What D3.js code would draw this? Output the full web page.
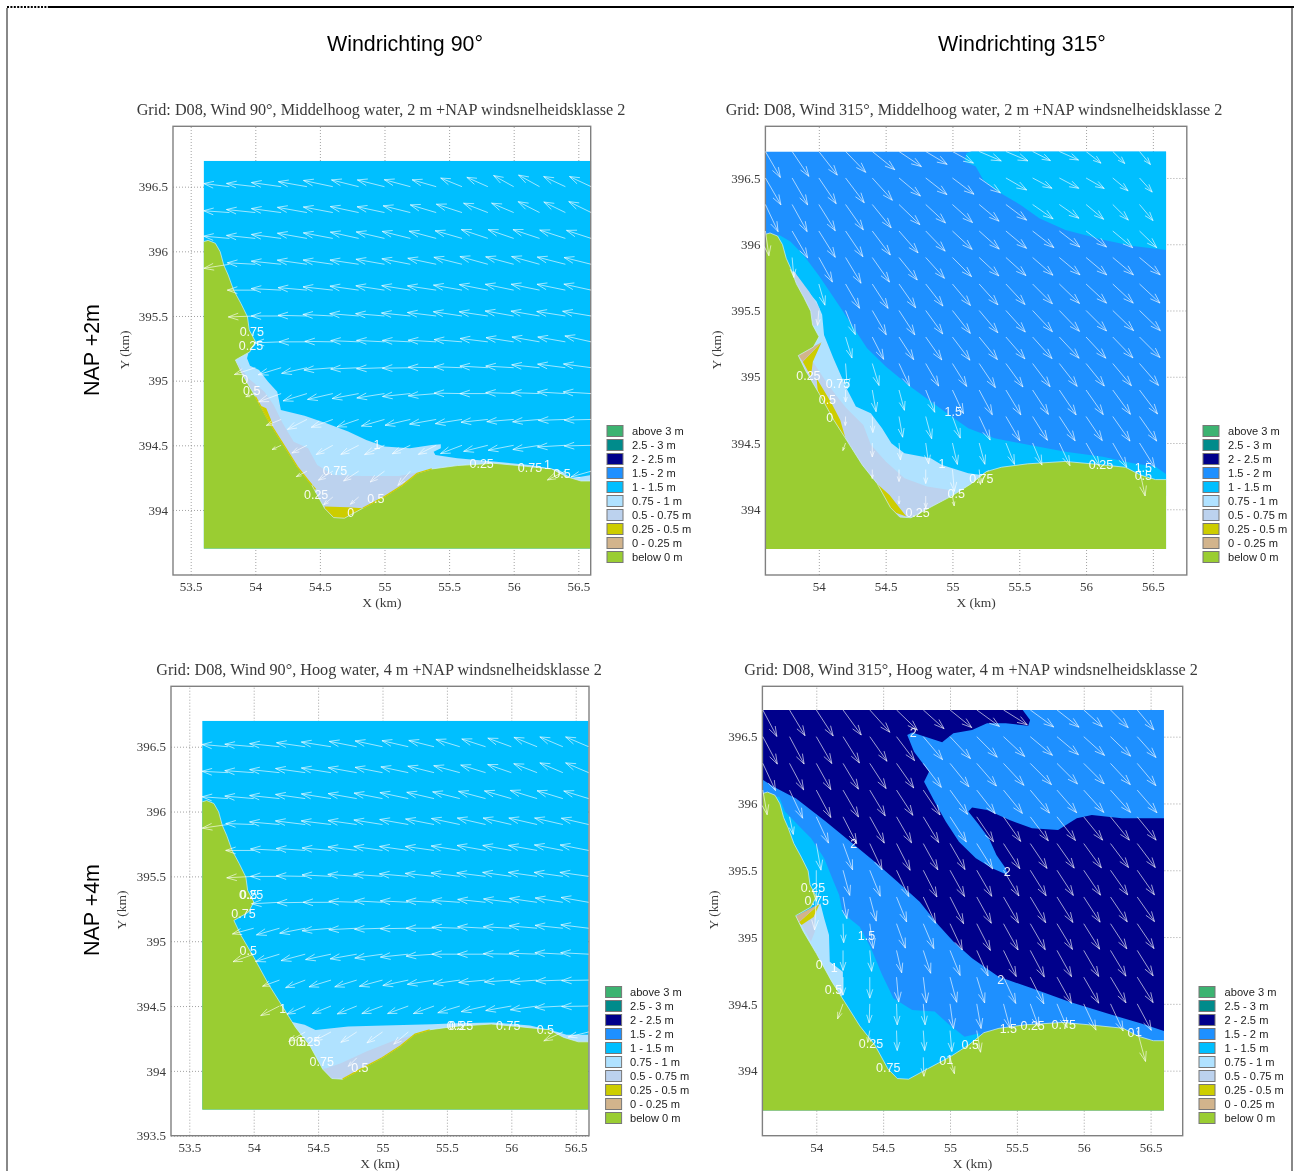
<!DOCTYPE html>
<html><head><meta charset="utf-8">
<script src="https://cdnjs.cloudflare.com/ajax/libs/d3/7.8.5/d3.min.js"></script>
<style>
html,body{margin:0;padding:0;background:#fff}
svg{display:block;filter:blur(0.35px)}
.serif{font-family:"Liberation Serif",serif;fill:#3a3a3a}
.sans{font-family:"Liberation Sans",Arial,sans-serif}
</style></head><body><div id="chart"></div>
<script>
/* ---------- legend ---------- */
const bandNames = ["above 3 m","2.5 - 3 m","2 - 2.5 m","1.5 - 2 m","1 - 1.5 m","0.75 - 1 m","0.5 - 0.75 m","0.25 - 0.5 m","0 - 0.25 m","below 0 m"];
const bandColors = ["#3CB371","#008B8B","#00008B","#1E90FF","#00BFFF","#B0E2FF","#BCD2EE","#CDCD00","#D2B48C","#9ACD32"];

/* ---------- coastline (km) ---------- */
const coast = [[53.6,393.7],[53.6,396.075],[53.635,396.085],[53.691,396.062],[53.728,395.997],[53.756,395.894],[53.79,395.817],[53.832,395.701],[53.888,395.598],[53.939,395.495],[53.953,395.392],[54.001,395.302],[53.959,395.224],[53.846,395.16],[53.902,395.044],[54.001,394.876],[54.114,394.67],[54.212,394.515],[54.325,394.335],[54.437,394.193],[54.536,394.013],[54.606,393.941],[54.69,393.936],[54.831,394.013],[55,394.103],[55.141,394.193],[55.253,394.284],[55.366,394.317],[55.563,394.343],[55.844,394.361],[56.041,394.343],[56.295,394.317],[56.407,394.258],[56.52,394.224],[56.6,394.224],[56.6,393.7]];

/* ---------- depth bands (km) ---------- */
const p1Band75 = [[53.953,395.237],[53.936,395.173],[53.959,395.116],[54.029,395.082],[54.099,394.992],[54.17,394.915],[54.198,394.773],[54.381,394.729],[54.55,394.67],[54.719,394.606],[54.859,394.541],[55,394.49],[55.197,394.477],[55.366,394.503],[55.436,394.508],[55.436,394.477],[55.38,394.451],[55.394,394.425],[55.563,394.399],[55.844,394.374],[56.126,394.348],[56.351,394.309],[56.45,394.245],[56.6,394.271],[56.6,394.1],[55.4,394.1],[54.7,393.9],[54.4,394],[53.8,395.16]];
const p1Band50 = [[53.846,395.16],[53.874,395.121],[53.945,395.018],[54.071,394.915],[54.142,394.812],[54.212,394.67],[54.297,394.528],[54.409,394.477],[54.479,394.348],[54.606,394.271],[54.831,394.263],[55.113,394.263],[55.282,394.296],[55.366,394.317],[55.3,394.1],[54.7,393.9],[54.4,394],[53.8,395.16]];
const p1Band25a = [[54.536,394.026],[54.719,394.021],[54.831,394.013],[54.69,393.88],[54.522,393.88]];
const p1Band25b = [[54.038,394.807],[54.085,394.786],[54.133,394.67],[54.114,394.637],[53.959,394.889]];
const p1Band25c = [[54.409,394.232],[54.471,394.162],[54.437,394.142],[54.353,394.245]];
const p1Edge = [[54.001,394.876],[54.114,394.67],[54.212,394.515],[54.325,394.335],[54.437,394.193]];
const p1Edge2 = [[54.831,394.013],[55,394.103],[55.141,394.193],[55.253,394.284],[55.366,394.317]];

const p2BandOff = [[55.146,396.704],[55.104,396.687],[55.09,396.624],[55.174,396.586],[55.23,396.486],[55.342,396.397],[55.51,396.297],[55.65,396.196],[55.846,396.108],[56.126,396.033],[56.35,395.987],[56.6,395.957],[56.6,396.704]];
const p2Band100 = [[53.703,396.07],[53.787,396.02],[53.885,395.919],[53.997,395.768],[54.081,395.643],[54.165,395.517],[54.263,395.366],[54.361,395.215],[54.501,395.077],[54.669,394.938],[54.838,394.813],[54.978,394.712],[55.118,394.611],[55.314,394.536],[55.566,394.486],[55.846,394.435],[56.126,394.397],[56.35,394.347],[56.518,394.322],[56.6,394.264],[56.6,394.1],[55.4,394.1],[54.7,393.9],[54.4,394],[53.8,395.16],[53.65,396.05]];
const p2Band75 = [[53.815,395.794],[53.899,395.668],[53.983,395.567],[54.025,395.467],[54.039,395.316],[54.109,395.14],[54.207,394.913],[54.277,394.775],[54.389,394.725],[54.473,394.611],[54.543,394.498],[54.641,394.423],[54.838,394.385],[54.922,394.335],[55.118,394.272],[55.216,394.259],[55.272,394.297],[55.25,394.1],[54.7,393.9],[54.4,394],[53.75,395.2],[53.75,395.794]];
const p2Band50 = [[54.02,395.253],[53.955,395.114],[54.053,394.964],[54.137,394.85],[54.207,394.762],[54.333,394.636],[54.389,394.486],[54.501,394.36],[54.641,394.234],[54.81,394.171],[54.978,394.146],[54.95,394.03],[54.7,393.9],[54.4,394],[53.8,395.16]];
const p2Band50b = [[53.815,395.794],[53.927,395.643],[54.003,395.517],[54.003,395.391],[53.936,395.379],[53.75,395.5]];
const p2Band25a = [[54.02,395.26],[53.88,395.114],[53.941,395.001],[53.955,395.114]];
const p2Band25b = [[53.983,394.989],[54.095,394.8],[54.16,394.674],[54.221,394.46],[54.417,394.209],[54.529,394.108],[54.655,393.945],[54.5,394],[54,394.8]];
const p2Band0 = [[53.843,395.165],[54.02,395.26],[53.97,395.21],[53.88,395.115]];

const p3Band75 = [[54.282,394.38],[54.395,394.355],[54.48,394.316],[54.734,394.342],[55.016,394.35],[55.383,394.36],[55.581,394.368],[55.863,394.373],[56.145,394.35],[56.36,394.3],[56.428,394.278],[56.603,394.278],[56.603,394.1],[55.4,394.1],[54.7,393.9],[54.2,394.2]];
const p3Band50 = [[54.564,394.021],[54.677,394.059],[54.875,394.149],[55.101,394.239],[55.298,394.29],[55.355,394.316],[55.3,394.1],[54.7,393.9],[54.45,394]];
const p3Edge = [[54.69,393.936],[54.831,394.013],[55,394.103],[55.141,394.193],[55.253,394.284],[55.366,394.317]];

const p4BandDeep = [[53.602,396.7],[55.543,396.7],[55.599,396.625],[55.585,396.582],[55.417,396.6],[55.277,396.6],[55.165,396.55],[55.025,396.525],[54.941,396.458],[54.815,396.5],[54.717,396.532],[54.68,396.512],[54.731,396.388],[54.787,396.313],[54.843,396.238],[54.806,396.163],[54.885,396.013],[54.969,395.864],[55.067,395.714],[55.193,395.589],[55.319,395.514],[55.431,395.465],[55.417,395.514],[55.347,395.614],[55.291,395.739],[55.207,395.851],[55.137,395.939],[55.165,395.969],[55.277,395.951],[55.445,395.876],[55.613,395.814],[55.808,395.801],[55.948,395.889],[56.06,395.914],[56.284,395.889],[56.601,395.889],[56.601,394.297],[56.424,394.354],[56.172,394.429],[55.892,394.516],[55.613,394.616],[55.361,394.704],[55.165,394.841],[55.025,394.966],[54.913,395.09],[54.773,395.265],[54.605,395.415],[54.437,395.564],[54.269,395.702],[54.073,395.864],[53.849,396.038],[53.681,396.126],[53.602,396.176]];
const p4Band100 = [[53.723,396.051],[53.765,395.939],[53.863,395.839],[53.961,395.739],[54.059,395.589],[54.129,395.415],[54.171,395.315],[54.199,395.178],[54.325,395.078],[54.409,394.916],[54.493,394.716],[54.577,394.541],[54.717,394.454],[54.885,394.442],[54.997,394.342],[55.109,394.254],[55.221,394.279],[55.24,394.1],[54.7,393.9],[54.4,394],[53.8,395.16],[53.65,396.05]];
const p4Band75 = [[54.031,395.252],[54.059,395.14],[54.095,395.016],[54.101,394.816],[54.199,394.741],[54.199,394.566],[54.1,394.5],[53.8,395.1]];
const p4Band50 = [[54.025,395.25],[53.98,395.15],[53.89,395.09],[53.96,394.966],[53.989,395.04],[53.989,395.14]];
const p4Band25 = [[54.025,395.25],[53.87,395.11],[53.89,395.09],[53.98,395.15]];
const p4Band0 = [[53.843,395.155],[54.025,395.25],[53.97,395.2],[53.87,395.11]];

/* ---------- wind grids ---------- */
const colsEast = [53.8,54,54.2,54.4,54.6,54.8,55,55.2,55.4,55.6,55.8,56,56.2,56.4,56.6];
const colsNorth = [53.6,53.8,54,54.2,54.4,54.6,54.8,55,55.2,55.4,55.6,55.8,56,56.2,56.4];
const rowsEast = [396.5,396.3,396.1,395.9,395.7,395.5,395.3,395.1,394.9,394.7,394.5,394.3,394.1];
const rowsNorth = [396.7,396.5,396.3,396.1,395.9,395.7,395.5,395.3,395.1,394.9,394.7,394.5,394.3,394.1];
const _ = null;

/* degrees north of due west (negative: south of west) */
const p1Dir = [
[7,6.5,8,10,12,14,14,15,16,22,24,29,29,25,25],
[4,6,7.6,10,10.7,12,12,14,16.5,18,21,23,27,26,26],
[5,6,7.6,10,10.7,12.6,13,14,15,16,18.4,19,18.4,18,18],
[-9,3,6,8,8.2,8.5,10,11,12,14,15.5,15,15.5,14.4,14],
[_,0,3,5,6.3,8,8.7,9,8.5,10,11,11.7,11.8,11.7,12.4],
[_,-2,0,1.3,3,4.7,4.7,6,7,8.5,8.4,10,9.7,9,9.4],
[_,_,-2,0,1,2.6,3,3,3.4,4.7,7,8.7,10,10,12.7],
[_,-18,-17,-12.5,-4.6,-2.7,-2,-1,1,2,3.3,3.4,6,7.4,7.7],
[_,-18,-20,-17,-13,-10.6,-9,-6,-4.6,1,0,2,2,3.4,3.4],
[_,_,-22,-27,-20,-19,-16,-13,-10,-9,-6,-4.7,-5,-2,-1.4],
[_,_,-25,-27,-29,-27,-25,-25,-27,-21,-14,-11,-9,-3.4,-1.4],
[_,_,_,-27,-32,-33,-37,-49,_,_,_,_,_,-26,-16],
[_,_,_,_,-40,-41,_,_,_,_,_,_,_,_,_]];
const p1Len = [
[26,29,30,29,30,28,28,27,25,23,23,23,24,24,24],
[26,29,30,30,30,29,28,28,27,27,26,24,24,24,25],
[26,29,30,30,30,29,29,29,28,28,28,27,28,27,26],
[26,28,30,30,30,29,29,29,29,29,29,29,29,29,28],
[_,28,30,29,30,29,29,29,29,29,29,29,29,29,28],
[_,27,30,29,30,29,29,29,29,29,29,29,29,29,29],
[_,_,27,28,28,28,28,28,28,28,28,28,28,28,27],
[_,22,24,26,29,28,28,28,28,28,28,28,28,28,28],
[_,10,24,25,26,27,28,28,28,28,28,28,28,28,28],
[_,_,16,22,23,23,24,26,27,27,27,27,27,27,27],
[_,_,10,17,19,20,22,20,20,23,25,26,27,28,27],
[_,_,_,12,17,18,18,19,_,_,_,_,_,20,21],
[_,_,_,_,12,11,_,_,_,_,_,_,_,_,_]];

const p3Dir = [
[5,5,6,8,9,11,12,13,14,17,18,20,22,23,23],
[3,4,6,8,9,10,11,12,14,15,17,19,21,23,23],
[4,5,6,8,9,10,11,12,13,14,15,16,17,17,17],
[-8,2,5,7,7,8,9,10,11,12,13,13,13,13,13],
[_,0,3,4,5,7,8,8,8,9,10,10,10,11,11],
[_,-3,0,1,3,4,4,5,6,7,7,8,8,8,8],
[_,_,-3,-1,0,2,3,3,3,4,6,7,8,9,10],
[_,-15,-16,-11,-5,-3,-2,-1,0,2,3,3,5,6,7],
[_,-20,-17,-15,-12,-10,-8,-6,-4,0,0,1,2,3,3],
[_,_,-20,-21,-17,-17,-15,-12,-9,-8,-5,-4,-4,-2,-1],
[_,_,-27,-24,-22,-22,-20,-20,-20,-17,-13,-10,-8,-3,-1],
[_,_,_,-30,-28,-33,-35,-40,_,_,_,_,_,-25,-14],
[_,_,_,_,_,-45,_,_,_,_,_,_,_,_,_]];
const p3Len = [
[26,29,30,29,30,28,28,27,26,25,25,25,25,25,25],
[26,29,30,30,30,29,28,28,27,27,26,25,25,25,25],
[26,29,30,30,30,29,29,29,28,28,28,28,28,27,26],
[26,28,30,30,30,29,29,29,29,29,29,29,29,29,28],
[_,28,29,29,29,29,29,29,29,29,29,29,29,29,29],
[_,27,29,29,29,29,29,29,29,29,29,29,29,29,29],
[_,_,28,28,28,28,28,28,28,28,28,28,28,28,28],
[_,22,24,26,29,28,28,28,28,28,28,28,28,28,28],
[_,22,25,25,26,27,28,28,28,28,28,28,28,28,28],
[_,_,18,21,23,23,24,26,27,27,27,27,27,27,27],
[_,_,21,20,20,21,22,22,22,23,25,26,27,28,27],
[_,_,_,19,19,19,19,19,_,_,_,_,_,21,21],
[_,_,_,_,_,12,_,_,_,_,_,_,_,_,_]];

/* compass bearing the flow points to */
const p2Dir = [
[150,146,142,136,129,124,121,119,113,113,117,114,128,135,140],
[150,150,146,143,138,130,128,127,125,120,118,118,120,130,138],
[155,151,148,145,141,134,133,132,130,127,125,125,130,135,140],
[172,150,148,146,143,139,136,133,132,130,128,128,128,130,134],
[_,175,151,149,145,141,138,135,133,132,131,130,130,130,130],
[_,_,164,150,147,145,142,140,138,137,135,134,133,133,133],
[_,_,185,158,150,147,144,142,140,138,137,136,135,134,134],
[_,_,_,163,153,147,145,143,141,139,138,137,137,136,135],
[_,_,_,176,163,155,150,148,146,144,143,142,141,140,139],
[_,_,_,180,170,165,158,155,152,149,147,146,145,144,143],
[_,_,_,182,178,170,165,160,155,150,148,147,146,145,145],
[_,_,_,200,180,175,172,167,165,158,157,155,150,150,148],
[_,_,_,_,180,180,180,175,175,_,_,_,_,_,168],
[_,_,_,_,_,180,180,170,_,_,_,_,_,_,_]];
const p2Len = [
[30,30,30,29,29,27,25,24,24,24,20,21,19,17,17],
[31,31,31,31,30,28,27,27,26,24,22,22,21,20,19],
[30,31,31,31,30,29,27,27,26,26,25,24,23,22,21],
[25,31,31,31,30,29,28,27,27,27,27,26,26,26,24],
[_,20,28,30,30,29,28,27,27,27,27,27,27,27,27],
[_,_,22,28,29,29,28,28,28,28,28,28,28,28,28],
[_,_,15,26,28,29,29,29,29,29,29,29,29,29,29],
[_,_,_,22,25,27,28,29,29,29,29,29,29,29,29],
[_,_,_,25,23,25,26,27,29,29,29,29,29,29,29],
[_,_,_,12,22,21,24,26,28,29,29,30,30,30,30],
[_,_,_,9,16,21,23,23,26,28,28,29,29,30,30],
[_,_,_,8,14,17,21,22,22,23,24,25,27,28,29],
[_,_,_,_,9,12,14,22,15,_,_,_,_,_,27],
[_,_,_,_,_,8,12,10,_,_,_,_,_,_,_]];

const p4Dir = [
[152,149,147,144,138,134,132,129,126,122,126,128,132,135,140],
[152,152,150,148,145,143,140,137,135,133,130,130,132,134,138],
[155,152,151,149,147,145,143,141,139,137,135,135,135,137,140],
[170,155,152,150,149,147,146,144,142,141,140,139,138,138,139],
[_,168,155,153,151,150,149,147,146,145,143,142,141,141,141],
[_,_,170,160,155,153,151,150,148,147,146,145,144,143,143],
[_,_,180,165,158,155,153,151,150,149,148,147,146,145,145],
[_,_,183,170,165,158,155,153,151,150,149,148,147,146,145],
[_,_,_,178,172,160,157,155,153,151,150,149,148,147,146],
[_,_,_,180,175,167,162,158,156,154,152,151,150,149,148],
[_,_,_,180,180,175,173,165,163,155,153,151,150,149,148],
[_,_,_,200,182,178,175,172,170,165,160,157,155,155,152],
[_,_,_,_,190,178,176,175,170,_,_,_,_,_,165],
[_,_,_,_,_,_,178,165,_,_,_,_,_,_,_]];
const p4Len = [
[30,30,31,31,30,29,28,28,28,28,29,28,25,25,26],
[31,31,31,31,30,30,30,30,29,29,29,28,28,28,28],
[30,30,30,30,30,30,30,30,30,30,30,29,29,29,29],
[25,31,31,31,30,30,30,30,30,30,30,30,30,30,30],
[_,18,29,30,30,30,30,30,30,30,30,30,30,30,30],
[_,_,27,28,29,30,30,30,30,30,30,30,30,30,30],
[_,_,31,26,28,29,30,30,30,30,30,30,30,30,30],
[_,_,33,22,25,27,29,30,30,30,30,30,30,30,30],
[_,_,_,19,25,26,27,29,30,30,30,30,30,30,30],
[_,_,_,20,21,23,24,27,28,29,30,30,30,30,30],
[_,_,_,18,21,25,26,26,27,29,30,30,30,30,30],
[_,_,_,16,19,21,21,25,25,25,25,26,29,30,30],
[_,_,_,_,12,20,20,21,22,_,_,_,_,_,32],
[_,_,_,_,_,_,19,17,_,_,_,_,_,_,_]];

/* ---------- contour labels: text, km, km ---------- */
const p1Labels = [["0.75",53.973,395.379],["0.25",53.967,395.271],["0",53.919,395.01],["0.5",53.973,394.923],["1",54.941,394.503],["0.75",54.617,394.304],["0.25",54.471,394.119],["0.5",54.933,394.09],["0",54.738,393.979],["0.25",55.752,394.361],["0.75",56.126,394.332],["1",56.261,394.348],["0.5",56.374,394.284]];
const p2Labels = [["0.25",53.922,395.009],["0.75",54.143,394.948],["0.5",54.064,394.825],["0",54.081,394.692],["1.5",55.006,394.737],["1",54.922,394.347],["0.75",55.216,394.234],["0.5",55.028,394.121],["0.25",54.739,393.977],["0.25",56.112,394.335],["1.5",56.429,394.314],["0.5",56.429,394.254]];
const p3Labels = [["0.25",53.98,395.362],["0.5",53.96,395.362],["0.75",53.921,395.216],["0.5",53.957,394.928],["1",54.226,394.483],["0.5",54.338,394.226],["0.25",54.423,394.226],["0.75",54.528,394.072],["0.5",54.824,394.026],["0.25",55.609,394.347],["0.5",55.567,394.347],["0.75",55.976,394.35],["0.5",56.264,394.321]];
const p4Labels = [["2",54.725,396.53],["2",54.28,395.697],["2",55.428,395.49],["2",55.38,394.679],["1.5",54.375,395.015],["0.25",53.975,395.372],["0.75",54.003,395.27],["0",54.022,394.791],["1",54.134,394.771],["0.5",54.129,394.604],["0.25",54.409,394.2],["0.75",54.538,394.022],["0",54.946,394.075],["1",54.997,394.087],["0.5",55.151,394.192],["1.5",55.436,394.317],["0.25",55.618,394.337],["0.75",55.85,394.349],["0",56.354,394.284],["1",56.41,394.292]];

/* ---------- axis ticks ---------- */
const xTicksWide = [53.5,54,54.5,55,55.5,56,56.5];
const xTicksNarrow = [54,54.5,55,55.5,56,56.5];
const yTicks = [394,394.5,395,395.5,396,396.5];
const yTicksLow = [393.5,394,394.5,395,395.5,396,396.5];

const panels = [
 {title:"Grid: D08, Wind 90°, Middelhoog water, 2 m +NAP windsnelheidsklasse 2",titleX:381,titleY:115,
  frame:[173,590.7,126.3,575],xd:[53.363,56.596],yd:[393.497,396.967],xt:xTicksWide,yt:yTicks,xLabY:607,yLabX:125,yLabY:350,
  base:"#00BFFF",polys:[[p1Band75,"#B0E2FF"],[p1Band50,"#BCD2EE"],[p1Band25a,"#CDCD00"],[p1Band25b,"#CDCD00"],[p1Band25c,"#CDCD00"]],
  edges:[p1Edge,p1Edge2],cols:colsEast,rows:rowsEast,dir:p1Dir,len:p1Len,base0:270,labels:p1Labels,leg:[607,425.5,632]},
 {title:"Grid: D08, Wind 315°, Middelhoog water, 2 m +NAP windsnelheidsklasse 2",titleX:974,titleY:115,
  frame:[765.4,1186.8,126.3,575],xd:[53.6,56.754],yd:[393.504,396.89],xt:xTicksNarrow,yt:yTicks,xLabY:607,yLabX:717,yLabY:350,
  base:"#1E90FF",polys:[[p2BandOff,"#00BFFF"],[p2Band100,"#00BFFF"],[p2Band75,"#B0E2FF"],[p2Band50,"#BCD2EE"],[p2Band50b,"#BCD2EE"],[p2Band25a,"#CDCD00"],[p2Band25b,"#CDCD00"],[p2Band0,"#D2B48C"]],
  edges:[],cols:colsNorth,rows:rowsNorth,dir:p2Dir,len:p2Len,base0:0,labels:p2Labels,leg:[1203,425.5,1228]},
 {title:"Grid: D08, Wind 90°, Hoog water, 4 m +NAP windsnelheidsklasse 2",titleX:379,titleY:675,
  frame:[171,589,686.3,1135.7],xd:[53.358,56.603],yd:[393.5,396.966],xt:xTicksWide,yt:yTicksLow,xLabY:1168,yLabX:122,yLabY:910,
  base:"#00BFFF",polys:[[p3Band75,"#B0E2FF"],[p3Band50,"#BCD2EE"]],
  edges:[p3Edge],cols:colsEast,rows:rowsEast,dir:p3Dir,len:p3Len,base0:270,labels:p3Labels,leg:[605.6,986.5,630]},
 {title:"Grid: D08, Wind 315°, Hoog water, 4 m +NAP windsnelheidsklasse 2",titleX:971,titleY:675,
  frame:[762.4,1182.7,686.3,1135.7],xd:[53.597,56.74],yd:[393.513,396.877],xt:xTicksNarrow,yt:yTicks,xLabY:1168,yLabX:714,yLabY:910,
  base:"#1E90FF",polys:[[p4BandDeep,"#00008B"],[p4Band100,"#00BFFF"],[p4Band75,"#B0E2FF"],[p4Band50,"#BCD2EE"],[p4Band25,"#CDCD00"],[p4Band0,"#D2B48C"]],
  edges:[],cols:colsNorth,rows:rowsNorth,dir:p4Dir,len:p4Len,base0:0,labels:p4Labels,leg:[1199,986.5,1224.6]}
];

const svg = d3.select("#chart").append("svg").attr("width",1295).attr("height",1171).attr("viewBox","0 0 1295 1171");

/* page frame */
svg.append("line").attr("x1",48).attr("x2",1294).attr("y1",7).attr("y2",7).attr("stroke","#000").attr("stroke-width",2);
svg.append("line").attr("x1",7).attr("x2",48).attr("y1",7).attr("y2",7).attr("stroke","#000").attr("stroke-width",2).attr("stroke-dasharray","2 1.4");
svg.append("line").attr("x1",7).attr("x2",7).attr("y1",8).attr("y2",1171).attr("stroke","#888").attr("stroke-width",2);
svg.append("line").attr("x1",1292).attr("x2",1292).attr("y1",8).attr("y2",1171).attr("stroke","#888").attr("stroke-width",2);

/* headers */
const head = svg.append("g").attr("class","sans").attr("fill","#000").attr("font-size",21.4);
head.append("text").attr("x",405).attr("y",51).attr("text-anchor","middle").text("Windrichting 90°");
head.append("text").attr("x",1022).attr("y",51).attr("text-anchor","middle").text("Windrichting 315°");
head.append("text").attr("transform","translate(99,350) rotate(-90)").attr("text-anchor","middle").text("NAP +2m");
head.append("text").attr("transform","translate(99,910) rotate(-90)").attr("text-anchor","middle").text("NAP +4m");

panels.forEach((p,pi)=>{
  const [l,r,t,b] = p.frame;
  const x = d3.scaleLinear().domain(p.xd).range([l,r]);
  const y = d3.scaleLinear().domain(p.yd).range([b,t]);
  const speed = d3.scaleLinear().domain([0,30]).range([0,30]);
  const line = d3.line().x(d=>x(d[0])).y(d=>y(d[1]));
  const g = svg.append("g");

  g.append("text").attr("class","serif").attr("x",p.titleX).attr("y",p.titleY).attr("text-anchor","middle").attr("font-size",16.2).text(p.title);

  const xAxis = d3.axisBottom(x).tickValues(p.xt).tickFormat(d3.format("")).tickSize(-(b-t)).tickPadding(7);
  const yAxis = d3.axisLeft(y).tickValues(p.yt).tickFormat(d3.format("")).tickSize(-(r-l)).tickPadding(5);
  [[xAxis,`translate(0,${b})`],[yAxis,`translate(${l},0)`]].forEach(([a,tr])=>{
    const ax = g.append("g").attr("transform",tr).call(a);
    ax.select(".domain").remove();
    ax.selectAll(".tick line").attr("stroke","#8a8a8a").attr("stroke-width",0.8).attr("stroke-dasharray","1 2");
    ax.selectAll(".tick text").attr("class","serif").attr("font-size",13).attr("fill","#3a3a3a");
  });

  g.append("text").attr("class","serif").attr("x",(l+r)/2).attr("y",p.xLabY).attr("text-anchor","middle").attr("font-size",13.5).text("X (km)");
  g.append("text").attr("class","serif").attr("transform",`translate(${p.yLabX+4},${p.yLabY}) rotate(-90)`).attr("text-anchor","middle").attr("font-size",13.5).text("Y (km)");

  const clipId = "clip"+pi;
  const dataX0 = x(53.6), dataX1 = x(56.6), dataY0 = y(396.7), dataY1 = y(393.7);
  svg.append("clipPath").attr("id",clipId).append("rect").attr("x",dataX0).attr("y",dataY0).attr("width",dataX1-dataX0).attr("height",dataY1-dataY0);

  const map = g.append("g").attr("clip-path",`url(#${clipId})`);
  map.append("rect").attr("x",dataX0).attr("y",dataY0).attr("width",dataX1-dataX0).attr("height",dataY1-dataY0).attr("fill",p.base);
  p.polys.forEach(([pts,col])=>{
    map.append("path").attr("d",line(pts)+"Z").attr("fill",col);
  });
  map.append("path").attr("d",line(coast)+"Z").attr("fill","#9ACD32").attr("stroke","none");
  map.append("path").attr("d",line(coast.slice(1,-1))).attr("fill","none").attr("stroke","#CFEFFF").attr("stroke-width",0.7);
  p.edges.forEach(e=>map.append("path").attr("d",line(e)).attr("fill","none").attr("stroke","#CDCD00").attr("stroke-width",1.3));

  /* frame */
  g.append("rect").attr("x",l).attr("y",t).attr("width",r-l).attr("height",b-t).attr("fill","none").attr("stroke","#808080").attr("stroke-width",1.4);

  /* wind arrows: shaft and head are separate so the tip reads brighter */
  const arrows = g.append("g").attr("fill","none").attr("stroke","#fff").attr("stroke-width",1).attr("stroke-opacity",0.62);
  p.rows.forEach((ry,ri)=>{
    p.cols.forEach((cx,ci)=>{
      const d = p.dir[ri][ci];
      if(d===null) return;
      const L = speed(p.len[ri][ci]);
      if(!L) return;
      const bearing = (p.base0+d)*Math.PI/180;
      const ux = Math.sin(bearing), uy = -Math.cos(bearing);
      const x0 = x(cx), y0 = y(ry);
      const x1 = x0+ux*L, y1 = y0+uy*L;
      const hl = Math.min(10,L*0.42), hw = hl*0.34;
      const bx = x1-ux*hl, by = y1-uy*hl;
      arrows.append("path").attr("d",`M${x0},${y0}L${x1},${y1}`);
      arrows.append("path").attr("d",`M${bx-uy*hw},${by+ux*hw}L${x1},${y1}L${bx+uy*hw},${by-ux*hw}`);
    });
  });

  /* contour labels */
  g.append("g").attr("class","sans").attr("fill","#fff").attr("fill-opacity",0.92).attr("font-size",12.5).attr("text-anchor","middle")
    .selectAll("text").data(p.labels).join("text")
    .attr("x",d=>x(d[1])).attr("y",d=>y(d[2])+4.5).text(d=>d[0]);

  /* legend */
  const [sx,sy,tx] = p.leg;
  const leg = g.append("g");
  bandNames.forEach((n,i)=>{
    leg.append("rect").attr("x",sx).attr("y",sy+i*14).attr("width",16).attr("height",11).attr("fill",bandColors[i]).attr("stroke","#777").attr("stroke-width",1);
    leg.append("text").attr("class","sans").attr("x",tx).attr("y",sy+i*14+9.5).attr("font-size",11.1).attr("fill","#222").text(n);
  });
});
</script></body></html>
